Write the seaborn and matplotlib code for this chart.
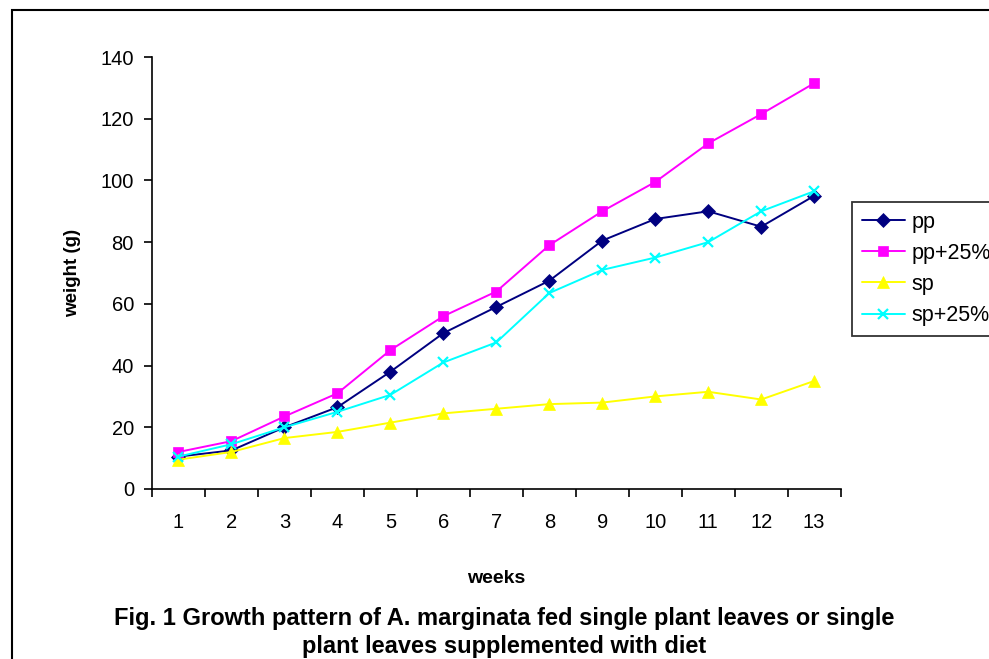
import pandas as pd
import matplotlib.pyplot as plt
import seaborn as sns
from matplotlib.patches import Rectangle
from matplotlib.ticker import MultipleLocator, FixedLocator

# Data
weeks = list(range(1, 14))
pp = [10.5, 12.5, 20, 26.5, 38, 50.5, 59, 67.5, 80.5, 87.5, 90, 85, 95]
pp25 = [12, 15.5, 23.5, 31, 45, 56, 64, 79, 90, 99.5, 112, 121.5, 131.5]
sp = [9.5, 12, 16.5, 18.5, 21.5, 24.5, 26, 27.5, 28, 30, 31.5, 29, 35]
sp25 = [10.5, 14.5, 20, 25, 30.5, 41, 47.5, 63.5, 71, 75, 80, 90, 96.5]
series_names = ["pp", "pp+25%", "sp", "sp+25%"]

frames = []
for name, vals in zip(series_names, [pp, pp25, sp, sp25]):
    frames.append(pd.DataFrame({"week": weeks, "weight": vals, "diet": name}))
df = pd.concat(frames, ignore_index=True)

sns.set_style("white")
plt.rcParams['font.family'] = ['Liberation Sans', 'DejaVu Sans']
plt.rcParams['text.color'] = 'black'
plt.rcParams['xtick.color'] = 'black'
plt.rcParams['ytick.color'] = 'black'
plt.rcParams['axes.labelcolor'] = 'black'

fig = plt.figure(figsize=(9.89, 6.59), dpi=100)
ax = fig.add_axes([0.1537, 0.258, 0.6963, 0.6555])

palette = {"pp": "#000080", "pp+25%": "#FF00FF", "sp": "#FFFF00", "sp+25%": "#00FFFF"}
markers = {"pp": "D", "pp+25%": "s", "sp": "^", "sp+25%": "x"}
sizes = {"pp": 7.5, "pp+25%": 7.5, "sp": 9, "sp+25%": 7.5}

for name in series_names:
    d = df[df["diet"] == name]
    sns.lineplot(data=d, x="week", y="weight", ax=ax, color=palette[name],
                 marker=markers[name], markersize=sizes[name], linewidth=1.4,
                 markeredgecolor=palette[name], markeredgewidth=1.6 if name == "sp+25%" else 0.5,
                 label=name, legend=False)

ax.set_xlim(0.5, 13.5)
ax.set_ylim(0, 140)
ax.yaxis.set_major_locator(MultipleLocator(20))
ax.xaxis.set_major_locator(FixedLocator(weeks))
ax.xaxis.set_minor_locator(FixedLocator([w + 0.5 for w in range(0, 14)]))
ax.tick_params(axis='x', which='major', length=0, pad=17, labelsize=14.5)
ax.tick_params(axis='x', which='minor', length=6, width=1.2, direction='out', color='black', bottom=True)
ax.tick_params(axis='y', which='major', length=6, width=1.2, direction='out', color='black', left=True,
               labelsize=14.5, pad=7)
for s in ['top', 'right']:
    ax.spines[s].set_visible(False)
for s in ['left', 'bottom']:
    ax.spines[s].set_color('black')
    ax.spines[s].set_linewidth(1.2)

ax.set_xlabel("weeks", fontsize=14, fontweight='bold', labelpad=28)
ax.set_ylabel("weight (g)", fontsize=13.5, fontweight='bold', labelpad=14)

handles, labels = ax.get_legend_handles_labels()
leg = fig.legend(handles, labels, loc='upper left', bbox_to_anchor=(852 / 989, 1 - 202 / 659),
                 fontsize=15.5, frameon=True, fancybox=False, edgecolor='black',
                 handlelength=2.0, borderpad=0.45, labelspacing=0.47, handletextpad=0.3,
                 borderaxespad=0)
leg.get_frame().set_linewidth(1.3)

caption_font = ['Liberation Sans Narrow', 'Liberation Sans']
fig.text(0.51, 1 - 618 / 659, "Fig. 1 Growth pattern of A. marginata fed single plant leaves or single",
         ha='center', va='center', fontsize=17, fontweight='bold', family=caption_font)
fig.text(0.51, 1 - 646 / 659, "plant leaves supplemented with diet",
         ha='center', va='center', fontsize=17, fontweight='bold', family=caption_font)

# outer chart frame
fig.patches.append(Rectangle((12 / 989, -0.1), 1.2, 1 - 10 / 659 + 0.1, transform=fig.transFigure,
                             fill=False, edgecolor='black', linewidth=1.5))

fig.savefig("out.png", dpi=100)
